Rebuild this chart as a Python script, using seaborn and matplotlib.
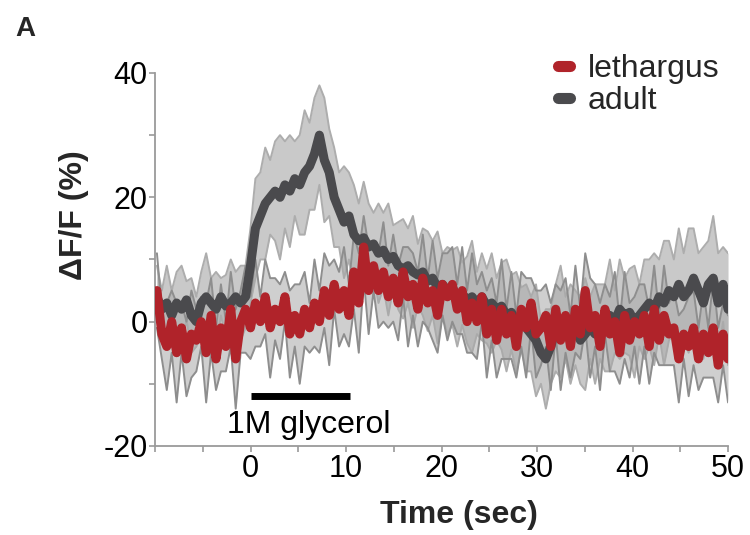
import numpy as np
import pandas as pd
import matplotlib
matplotlib.use("Agg")
import matplotlib.pyplot as plt
import seaborn as sns
from matplotlib.lines import Line2D

# ---- data ----
t_start, t_end = -9.8, 50.0

adult_mean = [4, 2, 3, 1, 3, 2, 3.5, 1, 0, 3, 4, 3, 2, 4, 2.5, 3, 4, 3, 4,
              9, 15, 17, 19, 20, 21, 20, 22, 21, 23, 22, 24, 25, 27, 30, 26, 24, 20, 18, 16, 17,
              14, 13, 13.5, 12, 12.5, 11, 11.5, 10, 10.5, 9, 8.5, 9, 8, 7.5, 8, 6.5, 7, 5.5, 6, 5,
              5.5, 4, 4.5, 3.5, 4, 3, 4, 2.5, 3, 2, 2.5, 1, 1.5, 0, 0.5, -1, -2, -3, -5, -6,
              -4, -1, 0, -1, -2, -1, -3, -2, -1, -2, 0, -1, 1, 0, 2, 1, 1.5, 0, 1, 2,
              3, 2, 4, 3, 5, 4, 6, 4, 5, 7, 5, 3, 6, 7, 3, 6, 2]

adult_sem = [5, 3, 6, 4, 5, 7, 3, 6, 4, 5, 7, 4, 6, 3, 5, 7, 4, 6, 5,
             6, 8, 7, 9, 6, 8, 10, 7, 9, 6, 8, 10, 7, 9, 8, 10, 7, 8, 6, 9, 7,
             8, 6, 9, 7, 5, 8, 6, 9, 5, 7, 8, 6, 9, 5, 7, 8, 6, 9, 5, 7,
             6, 8, 5, 7, 9, 5, 7, 6, 8, 5, 7, 9, 6, 8, 5, 7, 6, 9, 5, 8,
             6, 7, 9, 5, 8, 6, 7, 9, 5, 8, 6, 7, 9, 5, 8, 6, 7, 9, 5, 8,
             7, 9, 6, 10, 8, 6, 9, 7, 10, 8, 6, 9, 7, 10, 8, 6, 9]

leth_mean = [5, -2, -4, 0, -5, -1, -6, -2, -3, 0, -5, 1, -6, -1, -4, 2, -6, 0, 2,
             -1, 3, 0, 4, -1, 2, 0, 4, -2, 1, -2, 2, -1, 3, 0, 5, 1, 6, 2, 5, 1,
             8, 3, 12, 5, 9, 5, 8, 4, 7, 3, 8, 4, 6, 2, 7, 3, 5, 1, 6, 4,
             6, 2, 5, 0, 3, 0, 4, -2, 2, -3, 2, -2, 1, -4, 2, -1, 3, -2, -1, 1,
             -4, 2, -3, 1, -4, 2, -2, 5, -1, 1, -4, 2, -2, 0, -5, 1, -3, 0, -2, 1,
             -4, 2, -3, 1, -2, -1, -6, -2, -4, -1, -6, -2, -5, -1, -7, -2, -6]

leth_sem = [6, 4, 7, 5, 8, 4, 6, 7, 5, 4, 8, 6, 5, 7, 4, 6, 8, 5, 7,
            5, 7, 4, 6, 8, 5, 6, 4, 7, 5, 8, 6, 4, 7, 5, 6, 8, 4, 6, 7, 5,
            6, 8, 5, 7, 4, 6, 8, 5, 7, 6, 4, 8, 5, 6, 7, 4, 8, 6, 5, 7,
            6, 4, 7, 5, 8, 6, 4, 7, 5, 6, 8, 4, 7, 5, 6, 8, 4, 7, 6, 5,
            7, 4, 8, 6, 5, 7, 4, 6, 8, 5, 7, 4, 6, 8, 5, 7, 6, 4, 8, 5,
            6, 7, 4, 8, 5, 6, 7, 4, 8, 6, 5, 7, 4, 8, 6, 5, 7]

series_names = ["lethargus", "adult"]
x_ticks = [-10, -5, 0, 5, 10, 15, 20, 25, 30, 35, 40, 45, 50]
x_ticklabels = ["", "", "0", "", "10", "", "20", "", "30", "", "40", "", "50"]
y_ticks = [-20, -10, 0, 10, 20, 30, 40]
y_ticklabels = ["-20", "", "0", "", "20", "", "40"]
stim_on, stim_off, stim_level = 0, 10.4, -12
stim_label = "1M glycerol"

# ---- styling ----
sns.set_theme(style="white")
plt.rcParams["font.family"] = ["Liberation Sans", "DejaVu Sans"]

RED = "#b0232a"
DARK = "#4a4a4d"
FILL_ADULT = "#c9c9c9"
EDGE_ADULT = "#adadad"
FILL_LETH = "#a9a9a9"
EDGE_LETH = "#8e8e8e"
AXC = "#9a9a9a"

n = len(adult_mean)
t = np.linspace(t_start, t_end, n)
df = pd.DataFrame({
    "t": np.concatenate([t, t]),
    "mean": np.concatenate([leth_mean, adult_mean]),
    "sem": np.concatenate([leth_sem, adult_sem]),
    "group": [series_names[0]] * n + [series_names[1]] * n,
})
df["lo"] = df["mean"] - df["sem"]
df["hi"] = df["mean"] + df["sem"]

fig = plt.figure(figsize=(7.5, 5.35), dpi=100)
ax = fig.add_axes([0.2067, 0.1664, 0.764, 0.6972])

a = df[df.group == "adult"]
l = df[df.group == "lethargus"]

# error bands (fill + thin spiky edges)
ax.fill_between(a["t"], a["lo"], a["hi"], color=FILL_ADULT, lw=0, zorder=1)
for col in ["lo", "hi"]:
    sns.lineplot(x=a["t"].values, y=a[col].values, ax=ax, color=EDGE_ADULT, lw=1.4, zorder=1.1)
ax.fill_between(l["t"], l["lo"], l["hi"], color=FILL_LETH, lw=0, zorder=2, alpha=0.55)
for col in ["lo", "hi"]:
    sns.lineplot(x=l["t"].values, y=l[col].values, ax=ax, color=EDGE_LETH, lw=1.4, zorder=2.1)

# mean traces
sns.lineplot(data=df, x="t", y="mean", hue="group", hue_order=["adult", "lethargus"],
             palette={"adult": DARK, "lethargus": RED}, lw=6.5, ax=ax, legend=False,
             zorder=3, estimator=None, sort=False)
for ln in ax.lines[-2:]:
    ln.set_solid_capstyle("round")
    ln.set_solid_joinstyle("round")

# stimulus bar
ax.plot([stim_on, stim_off], [stim_level, stim_level], color="black", lw=5, solid_capstyle="butt", zorder=4)
ax.text(6.1, -16.6, stim_label, ha="center", va="center", fontsize=23, color="black")

ax.set_xlim(-10, 50)
ax.set_ylim(-20, 40)
ax.set_xticks(x_ticks)
ax.set_xticklabels(x_ticklabels)
ax.set_yticks(y_ticks)
ax.set_yticklabels(y_ticklabels)
ax.tick_params(axis="both", which="both", direction="out", length=4, width=1.2, color=AXC,
               labelsize=22, labelcolor="black", pad=1.5, bottom=True, left=True)
for s in ["top", "right"]:
    ax.spines[s].set_visible(False)
for s in ["left", "bottom"]:
    ax.spines[s].set_color(AXC)
    ax.spines[s].set_linewidth(1.3)

ax.set_xlabel("Time (sec)", fontsize=23, fontweight="bold")
ax.xaxis.set_label_coords(0.53, -0.145)
ax.set_ylabel("ΔF/F (%)", fontsize=23, fontweight="bold")
ax.yaxis.set_label_coords(-0.115, 0.62)

handles = [Line2D([0], [0], color=RED, lw=8, solid_capstyle="round"),
           Line2D([0], [0], color=DARK, lw=8, solid_capstyle="round")]
fig.legend(handles, series_names, loc="upper left", bbox_to_anchor=(0.705, 0.952), frameon=False,
           fontsize=23, handlelength=0.4, handletextpad=0.55, labelspacing=0.05, borderpad=0.4)

fig.text(0.02, 0.945, "A", fontsize=20, fontweight="bold", ha="left", va="center")

fig.savefig("out.png", dpi=100)
